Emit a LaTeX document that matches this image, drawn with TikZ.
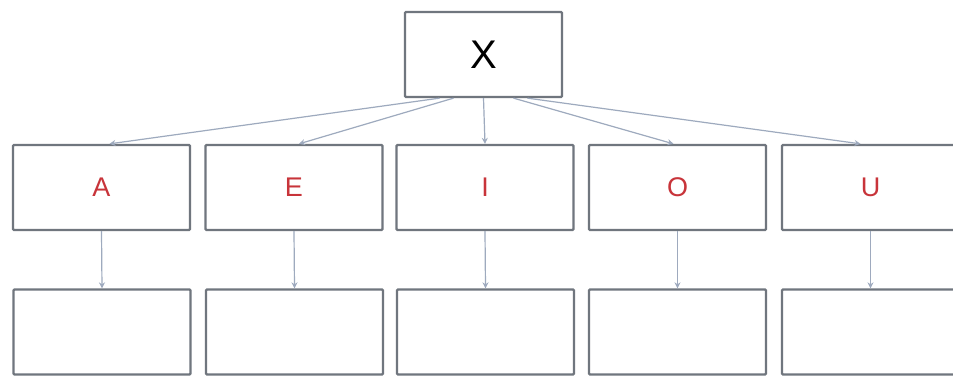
\documentclass[tikz,border=0pt]{standalone}
\usepackage{fontspec}
\setmainfont{Liberation Sans}
\usetikzlibrary{arrows.meta}
\definecolor{boxline}{RGB}{112,118,126}
\definecolor{edgecol}{RGB}{158,170,190}
\definecolor{vowel}{RGB}{200,52,58}
\tikzset{
  box/.style={draw=boxline, line width=2.3pt, fill=white, minimum width=177pt, minimum height=85pt, inner sep=0pt, rounded corners=1pt},
  topbox/.style={box, minimum width=157pt, font=\fontsize{40}{44}\selectfont},
  midbox/.style={box, text=vowel, font=\fontsize{27}{30}\selectfont},
  link/.style={draw=edgecol, line width=1.2pt, -{Stealth[length=6pt,width=6pt]}}
}
\begin{document}
\begin{tikzpicture}[x=1pt,y=-1pt]
\useasboundingbox (0,0) rectangle (953,375);
\clip (0,0) rectangle (953,375);
\fill[white] (0,0) rectangle (953,375);
\node[topbox] (X) at (483.5,54.5) {X};
\node[midbox] (A) at (101.5,187.5) {A};
\node[midbox] (E) at (294,187.5) {E};
\node[midbox] (I) at (485,187.5) {I};
\node[midbox] (O) at (677.5,187.5) {O};
\node[midbox] (U) at (870.5,187.5) {U};
\node[box] (A2) at (102,332) {};
\node[box] (E2) at (294.5,332) {};
\node[box] (I2) at (485.5,332) {};
\node[box] (O2) at (677.5,332) {};
\node[box] (U2) at (870.5,332) {};
\draw[link] ([xshift=-44pt]X.south) -- ([xshift=8pt]A.north);
\draw[link] ([xshift=-30pt]X.south) -- ([xshift=5pt]E.north);
\draw[link] (X.south) -- (I.north);
\draw[link] ([xshift=30pt]X.south) -- ([xshift=-4pt]O.north);
\draw[link] ([xshift=44pt]X.south) -- ([xshift=-10pt]U.north);
\draw[link] (A.south) -- (A2.north);
\draw[link] (E.south) -- (E2.north);
\draw[link] (I.south) -- (I2.north);
\draw[link] (O.south) -- (O2.north);
\draw[link] (U.south) -- (U2.north);
\end{tikzpicture}
\end{document}
